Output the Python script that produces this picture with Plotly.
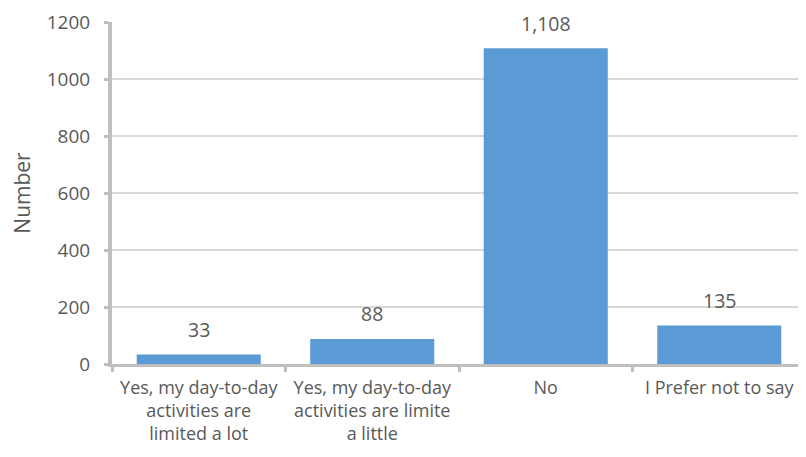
import plotly.graph_objects as go

categories = [
    "Yes, my day-to-day<br>activities are<br>limited a lot",
    "Yes, my day-to-day<br>activities are limite<br>a little",
    "No",
    "I Prefer not to say",
]
values = [33, 88, 1108, 135]
y_ticks = [0, 200, 400, 600, 800, 1000, 1200]

TXT = "#595959"
FONT = "Open Sans"

fig = go.Figure(go.Bar(x=categories, y=values, marker_color="#5b9bd5",
                       marker_line_width=0, hoverinfo="skip"))

for c, v in zip(categories, values):
    fig.add_annotation(x=c, y=v, text=f"{v:,}", showarrow=False, yshift=25,
                       font=dict(family=FONT, size=19.5, color=TXT))

fig.update_layout(
    width=806, height=457,
    margin=dict(l=104, r=8, t=14, b=101),
    plot_bgcolor="white", paper_bgcolor="white",
    bargap=0.285, showlegend=False,
    font=dict(family=FONT, color=TXT),
)
fig.update_yaxes(
    range=[0, 1200], tickvals=y_ticks, ticktext=[str(t) for t in y_ticks],
    showgrid=True, gridcolor="#d9d9d9", gridwidth=1.5,
    showline=True, linecolor="#bfbfbf", linewidth=4,
    ticks="outside", ticklen=4, tickwidth=3, tickcolor="#bfbfbf",
    ticklabelstandoff=10, ticklabeloverflow="allow",
    tickfont=dict(family=FONT, size=19, color=TXT),
    title=dict(text="Number", font=dict(family=FONT, size=21, color=TXT), standoff=15),
    zeroline=False, automargin=False,
)
fig.update_xaxes(
    showline=True, linecolor="#bfbfbf", linewidth=3,
    ticks="outside", tickson="boundaries", ticklen=5, tickwidth=3, tickcolor="#bfbfbf",
    ticklabelstandoff=5, ticklabeloverflow="allow",
    tickfont=dict(family=FONT, size=18, color=TXT), automargin=False,
)

fig.write_html("out.html")
